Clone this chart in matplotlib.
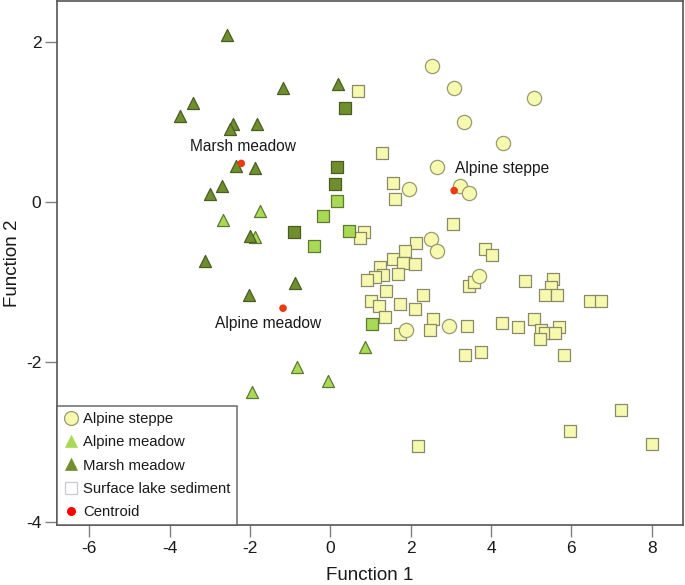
import matplotlib
matplotlib.use("Agg")
import matplotlib.pyplot as plt
from matplotlib.lines import Line2D

plt.rcParams['font.family'] = ['Liberation Sans', 'DejaVu Sans']
plt.rcParams['axes.unicode_minus'] = False

# Training samples
steppe_x = [2.52, 3.08, 5.06, 3.32, 4.30, 2.65, 1.96, 3.22, 3.45, 2.50, 2.66, 3.71, 1.88, 2.95]
steppe_y = [1.70, 1.42, 1.30, 1.00, 0.73, 0.44, 0.16, 0.20, 0.11, -0.47, -0.61, -0.93, -1.60, -1.55]

alpmead_x = [-1.76, -2.68, -1.89, 0.87, -0.82, -0.05, -1.96]
alpmead_y = [-0.12, -0.23, -0.44, -1.81, -2.06, -2.24, -2.38]

marsh_x = [-2.58, -3.42, -3.75, -2.43, -2.50, -1.84, -1.17, 0.20, -2.36, -1.89, -2.70, -3.00, -3.13, -2.01, -0.87, -2.03]
marsh_y = [2.08, 1.24, 1.07, 0.97, 0.91, 0.97, 1.42, 1.47, 0.45, 0.42, 0.20, 0.10, -0.74, -0.43, -1.01, -1.17]

# Surface lake sediments, by predicted group
sed_marsh_x = [0.36, 0.16, 0.12, -0.91]
sed_marsh_y = [1.17, 0.44, 0.22, -0.38]

sed_alpmead_x = [0.17, -0.19, 0.45, -0.42, 1.03]
sed_alpmead_y = [0.01, -0.18, -0.36, -0.55, -1.53]

sed_steppe_x = [0.69, 1.28, 1.55, 1.61, 0.84, 0.74, 3.04, 2.13, 1.85, 1.56, 1.81, 2.11, 1.23, 1.32,
                1.12, 0.91, 1.69, 1.38, 2.30, 1.01, 1.22, 1.74, 2.11, 1.36, 2.56, 2.48, 1.74, 3.41,
                3.84, 4.01, 3.45, 3.58, 4.26, 4.68, 4.84, 3.34, 3.76, 5.54, 5.48, 5.35, 5.64, 6.47,
                6.74, 5.07, 5.23, 5.68, 5.33, 5.60, 5.22, 5.81, 2.17, 5.97, 7.24, 8.01]
sed_steppe_y = [1.38, 0.61, 0.23, 0.03, -0.38, -0.45, -0.28, -0.51, -0.61, -0.71, -0.76, -0.78, -0.81, -0.91,
                -0.94, -0.98, -0.90, -1.11, -1.17, -1.24, -1.30, -1.28, -1.34, -1.44, -1.47, -1.60, -1.65, -1.55,
                -0.59, -0.66, -1.05, -1.00, -1.51, -1.56, -0.99, -1.91, -1.88, -0.97, -1.06, -1.17, -1.17, -1.24,
                -1.24, -1.46, -1.60, -1.56, -1.64, -1.64, -1.72, -1.91, -3.05, -2.86, -2.60, -3.03]

# Centroids
cent_names = ["Marsh meadow", "Alpine meadow", "Alpine steppe"]
cent_x = [-2.22, -1.18, 3.08]
cent_y = [0.48, -1.33, 0.14]
label_x = [-2.17, -1.55, 4.28]
label_y = [0.69, -1.52, 0.41]

xticks = [-6, -4, -2, 0, 2, 4, 6, 8]
yticks = [-4, -2, 0, 2]

C_STEPPE = '#F6F9AE'
C_STEPPE_E = '#9A9A70'
C_ALPM = '#A8DA56'
C_ALPM_E = '#5E7A30'
C_MARSH = '#6F8F2F'
C_MARSH_E = '#4A5E22'
C_CENT = '#EE3A12'

W, H = 685, 585
fig = plt.figure(figsize=(W / 100, H / 100), dpi=100)
ax = fig.add_axes([57.3 / W, 1 - 525 / H, (682.7 - 57.3) / W, (525 - 1) / H])

sq = 70
ax.scatter(sed_steppe_x, sed_steppe_y, marker='s', s=sq, c=C_STEPPE, edgecolors='#8A8A68', linewidths=0.9, zorder=2)
ax.scatter(sed_alpmead_x, sed_alpmead_y, marker='s', s=sq, c=C_ALPM, edgecolors=C_ALPM_E, linewidths=0.9, zorder=2)
ax.scatter(sed_marsh_x, sed_marsh_y, marker='s', s=sq, c=C_MARSH, edgecolors=C_MARSH_E, linewidths=0.9, zorder=2)

tri = 75
ax.scatter(alpmead_x, alpmead_y, marker='^', s=tri, c=C_ALPM, edgecolors=C_ALPM_E, linewidths=0.9, zorder=3)
ax.scatter(marsh_x, marsh_y, marker='^', s=tri, c=C_MARSH, edgecolors=C_MARSH_E, linewidths=0.9, zorder=3)
ax.scatter(steppe_x, steppe_y, marker='o', s=105, c=C_STEPPE, edgecolors=C_STEPPE_E, linewidths=0.9, zorder=4)
ax.scatter(cent_x, cent_y, marker='o', s=30, c=C_CENT, edgecolors='none', zorder=5)

for name, lx, ly in zip(cent_names, label_x, label_y):
    ax.text(lx, ly, name, ha='center', va='center', fontsize=11.2, color='#1a1a1a', zorder=6)

ax.set_xlim(-6.8, 8.77)
ax.set_ylim(-4.04, 2.51)
ax.set_xticks(xticks)
ax.set_yticks(yticks)
ax.tick_params(direction='out', length=8.5, width=1.0, color='#808080', labelsize=12.5,
               labelcolor='#1a1a1a', pad=3)
for sp in ax.spines.values():
    sp.set_color('#555555')
    sp.set_linewidth(1.2)

fig.text(370 / W, 1 - 575 / H, 'Function 1', fontsize=13.5, color='#1a1a1a', ha='center', va='center')
fig.text(13 / W, 1 - 263 / H, 'Function 2', fontsize=13.5, color='#1a1a1a', ha='center', va='center', rotation=90)

handles = [
    Line2D([], [], linestyle='none', marker='o', markersize=10, markerfacecolor=C_STEPPE, markeredgecolor=C_STEPPE_E, markeredgewidth=0.9),
    Line2D([], [], linestyle='none', marker='^', markersize=8.5, markerfacecolor=C_ALPM, markeredgecolor='#A8DA56', markeredgewidth=0.5),
    Line2D([], [], linestyle='none', marker='^', markersize=8.5, markerfacecolor=C_MARSH, markeredgecolor=C_MARSH, markeredgewidth=0.5),
    Line2D([], [], linestyle='none', marker='s', markersize=8.5, markerfacecolor='white', markeredgecolor='#C8CCD0', markeredgewidth=0.9),
    Line2D([], [], linestyle='none', marker='o', markersize=5.5, markerfacecolor='#FF0000', markeredgecolor='#FF0000'),
]
labels = ['Alpine steppe', 'Alpine meadow', 'Marsh meadow', 'Surface lake sediment', 'Centroid']
leg = ax.legend(handles, labels, loc='lower left', bbox_to_anchor=(0, 0), borderaxespad=0,
                fontsize=10.7, frameon=True, fancybox=False, edgecolor='#555555',
                handlelength=1.0, handletextpad=0.35, labelspacing=0.62, borderpad=0.4)
leg.get_frame().set_linewidth(1.2)
for t in leg.get_texts():
    t.set_color('#1a1a1a')

fig.savefig('out.png', dpi=100)
